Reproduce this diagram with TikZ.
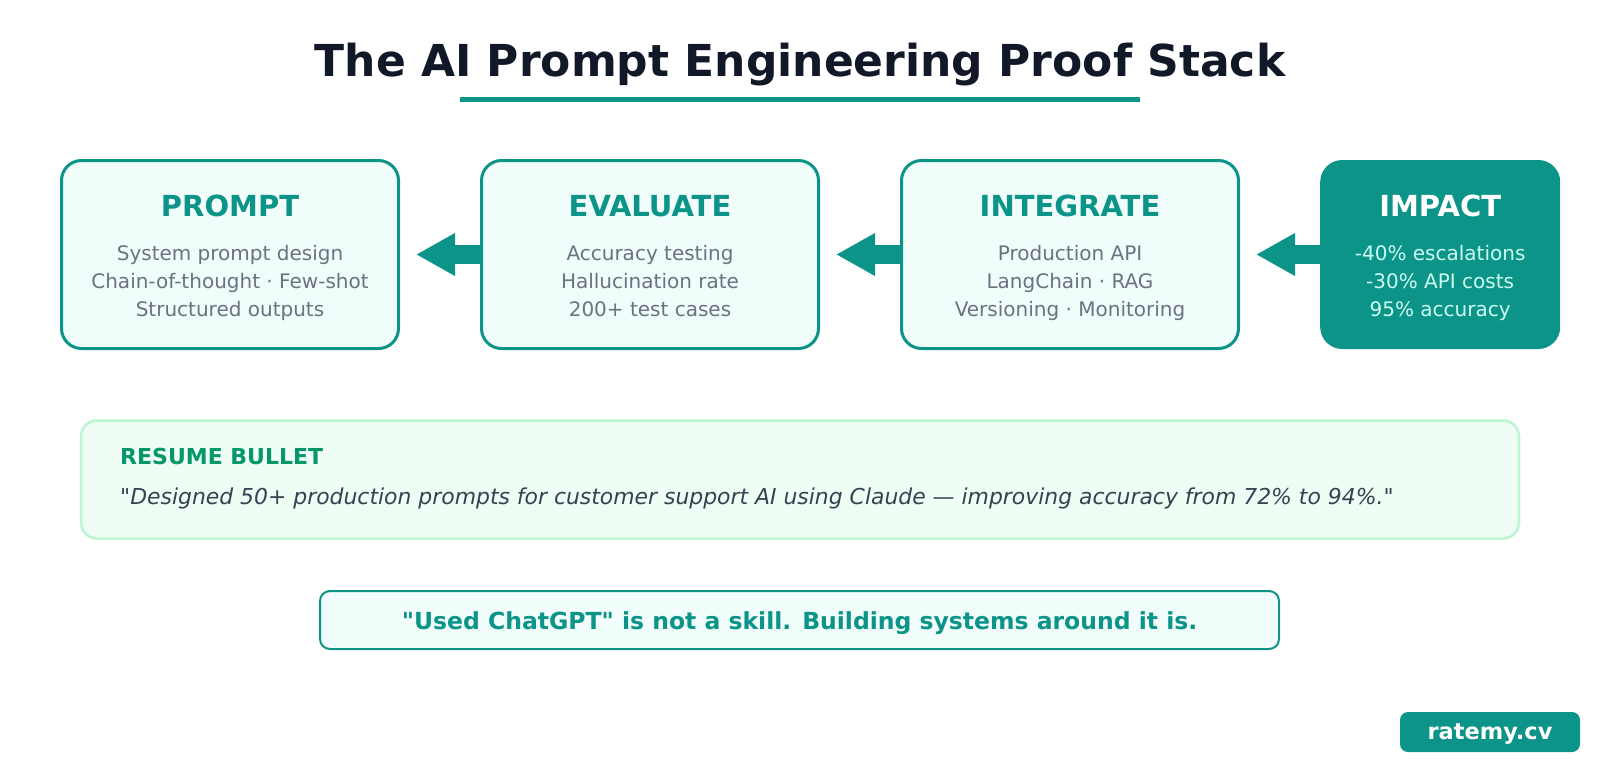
\documentclass[tikz,border=0pt]{standalone}
\usepackage{fontspec}
\setmainfont{DejaVu Sans}[Ligatures=TeXOff]
\usetikzlibrary{arrows.meta,positioning}
\definecolor{stackteal}{HTML}{0D9488}
\definecolor{stackpale}{HTML}{F0FDFA}
\definecolor{stackgray}{HTML}{6B7280}
\definecolor{stackink}{HTML}{111827}
\definecolor{bulletfill}{HTML}{F0FDF4}
\definecolor{bulletedge}{HTML}{BBF7D0}
\definecolor{bulletgreen}{HTML}{059669}
\definecolor{quotegray}{HTML}{374151}
\definecolor{impacttext}{HTML}{CCFBF1}

\begin{document}
\begin{tikzpicture}[
  x=1pt, y=1pt,
  node distance=80pt,
  stage/.style={draw=stackteal, fill=stackpale, line width=3pt, rounded corners=20pt, minimum width=337pt, minimum height=188pt},
  impact/.style={fill=stackteal, rounded corners=22pt, minimum width=240pt, minimum height=189pt},
  stagetitle/.style={anchor=base, inner sep=0pt, font=\bfseries\fontsize{29}{34}\selectfont, text=stackteal},
  stagetext/.style={anchor=base, inner sep=0pt, align=center, font=\fontsize{20}{28}\selectfont, text=stackgray},
  flow/.style={draw=stackteal, line width=19pt, -{Triangle[length=39pt,width=40pt]}, shorten >=16pt},
]
  \useasboundingbox (0,0) rectangle (1600,-760);

  % title
  \node[font=\bfseries\fontsize{44}{52}\selectfont, text=stackink] (title) at (800,-65) {The AI Prompt Engineering Proof Stack};
  \draw[stackteal, line width=5pt] (460,-99.5) -- (1140,-99.5);

  % the four stages
  \node[stage] (prompt) at (230,-254.5) {};
  \node[stage, right=of prompt] (evaluate) {};
  \node[stage, right=of evaluate] (integrate) {};
  \node[impact, right=of integrate] (impact) {};

  \node[stagetitle] (prompttitle) at ([yshift=-57pt]prompt.north) {PROMPT};
  \node[stagetext] (prompttext) at ([yshift=-157pt]prompt.north) {System prompt design\\Chain-of-thought · Few-shot\\Structured outputs};
  \node[stagetitle] (evaluatetitle) at ([yshift=-57pt]evaluate.north) {EVALUATE};
  \node[stagetext] (evaluatetext) at ([yshift=-157pt]evaluate.north) {Accuracy testing\\Hallucination rate\\200+ test cases};
  \node[stagetitle] (integratetitle) at ([yshift=-57pt]integrate.north) {INTEGRATE};
  \node[stagetext] (integratetext) at ([yshift=-157pt]integrate.north) {Production API\\LangChain · RAG\\Versioning · Monitoring};
  \node[stagetitle, text=white] (impacttitle) at ([yshift=-57pt]impact.north) {IMPACT};
  \node[stagetext, text=impacttext] (impacttext) at ([yshift=-157pt]impact.north) {-40\% escalations\\-30\% API costs\\95\% accuracy};

  \draw[flow] (evaluate) -- (prompt);
  \draw[flow] (integrate) -- (evaluate);
  \draw[flow] (impact) -- (integrate);

  % resume bullet
  \node[draw=bulletedge, fill=bulletfill, line width=2.5pt, rounded corners=16pt, minimum width=1438pt, minimum height=118pt] (bullet) at (800,-479.5) {};
  \node[anchor=base west, inner sep=0pt, font=\bfseries\fontsize{22}{26}\selectfont, text=bulletgreen] (bullethead) at (120,-464) {RESUME BULLET};
  \node[anchor=base west, inner sep=0pt, font=\itshape\fontsize{21.9}{26}\selectfont, text=quotegray] (bulletquote) at (120,-504) {"Designed 50+ production prompts for customer support AI using Claude — improving accuracy from 72\% to 94\%."};

  % closing note
  \node[draw=stackteal, fill=stackpale, line width=2pt, rounded corners=10pt, minimum width=959pt, minimum height=58pt] (note) at (799.5,-620) {};
  \node[font=\bfseries\fontsize{23.5}{28}\selectfont, text=stackteal] (notetext) at ([yshift=-3pt]note.center) {"Used ChatGPT" is not a skill. Building systems around it is.};

  \node[fill=stackteal, rounded corners=8pt, minimum width=180pt, minimum height=40pt] (brand) at (1490,-732) {};
  \node[font=\bfseries\fontsize{22.5}{26}\selectfont, text=white] (brandtext) at ([yshift=-2pt]brand.center) {ratemy.cv};
\end{tikzpicture}
\end{document}
